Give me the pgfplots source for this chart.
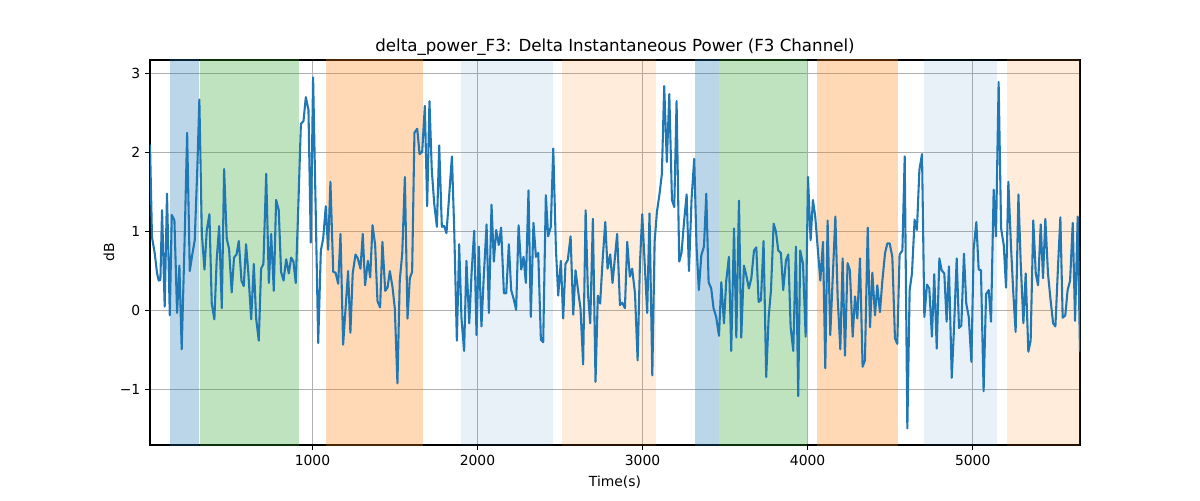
\documentclass[border=0pt]{standalone}
\usepackage{fontspec}
\setmainfont{DejaVu Sans}
\usepackage{pgfplots}
\pgfplotsset{compat=1.18}
\definecolor{tabblue}{RGB}{31,119,180}
\definecolor{tabgreen}{RGB}{44,160,44}
\definecolor{taborange}{RGB}{255,127,14}
\definecolor{gridgray}{RGB}{176,176,176}
\begin{document}
\begin{tikzpicture}
\path[use as bounding box] (-108pt,-39.6pt) rectangle (756pt,320.4pt);
\begin{axis}[
  at={(0,0)}, anchor=south west,
  scale only axis, width=669.6pt, height=277.2pt,
  xmin=16, xmax=5650, ymin=-1.70, ymax=3.17,
  xtick={1000,2000,3000,4000,5000},
  xticklabels={1000,2000,3000,4000,5000},
  ytick={-1,0,1,2,3},
  yticklabels={−1,0,1,2,3},
  tick pos=left, tick align=outside,
  major tick length=3.5pt,
  every tick/.style={black, line width=0.8pt},
  axis line style={line width=0.8pt},
  grid=major,
  major grid style={gridgray, line width=0.8pt},
  ticklabel style={font=\fontsize{10}{12}\selectfont},
  label style={font=\fontsize{10}{12}\selectfont},
  xlabel={Time(s)}, ylabel={dB},
  title={delta\_power\_F3: Delta Instantaneous Power (F3 Channel)},
  title style={font=\fontsize{12}{14}\selectfont, yshift=-6pt},
  xlabel style={yshift=-1pt},
  ylabel style={yshift=-3pt},
]
% shaded spans
\addplot[draw=none, fill=tabblue, fill opacity=0.3] coordinates {(138,-5) (313,-5) (313,5) (138,5)} -- cycle;
\addplot[draw=none, fill=tabgreen, fill opacity=0.3] coordinates {(320,-5) (917,-5) (917,5) (320,5)} -- cycle;
\addplot[draw=none, fill=taborange, fill opacity=0.3] coordinates {(1083,-5) (1669,-5) (1669,5) (1083,5)} -- cycle;
\addplot[draw=none, fill=tabblue, fill opacity=0.1] coordinates {(1901,-5) (2456,-5) (2456,5) (1901,5)} -- cycle;
\addplot[draw=none, fill=taborange, fill opacity=0.15] coordinates {(2513,-5) (3084,-5) (3084,5) (2513,5)} -- cycle;
\addplot[draw=none, fill=tabblue, fill opacity=0.3] coordinates {(3319,-5) (3460,-5) (3460,5) (3319,5)} -- cycle;
\addplot[draw=none, fill=tabgreen, fill opacity=0.3] coordinates {(3460,-5) (3998,-5) (3998,5) (3460,5)} -- cycle;
\addplot[draw=none, fill=taborange, fill opacity=0.3] coordinates {(4058,-5) (4548,-5) (4548,5) (4058,5)} -- cycle;
\addplot[draw=none, fill=tabblue, fill opacity=0.1] coordinates {(4707,-5) (5150,-5) (5150,5) (4707,5)} -- cycle;
\addplot[draw=none, fill=taborange, fill opacity=0.15] coordinates {(5210,-5) (5700,-5) (5700,5) (5210,5)} -- cycle;
% signal
\addplot[tabblue, line width=1.5pt, line join=round, mark=none] table {
x y
16 2.10
28 0.93
45 0.72
59 0.47
69 0.38
79 0.39
89 1.27
105 0.05
119 1.48
136 -0.06
148 1.21
164 1.14
180 -0.03
194 0.57
208 -0.49
225 0.83
241 2.25
257 0.50
273 0.72
287 0.89
303 1.82
315 2.67
330 0.97
346 0.52
360 1.02
376 1.22
390 0.09
406 -0.11
420 0.64
435 1.07
451 0.03
465 1.79
481 0.91
495 0.78
511 0.23
525 0.67
540 0.71
554 0.88
570 0.38
584 0.31
598 0.84
612 0.47
629 -0.11
645 0.59
659 -0.10
675 -0.38
689 0.53
703 0.59
720 1.73
736 0.35
750 0.97
766 0.25
780 1.40
796 1.27
810 0.49
825 0.38
841 0.65
857 0.47
871 0.67
885 0.62
899 0.35
915 1.35
930 2.36
946 2.40
960 2.70
976 2.54
990 0.86
1004 2.95
1020 1.25
1035 -0.41
1051 0.76
1065 0.91
1081 1.32
1095 0.77
1109 1.63
1126 0.49
1140 0.48
1156 0.34
1170 0.97
1186 -0.43
1216 0.50
1230 -0.28
1244 0.47
1261 0.71
1275 0.66
1291 0.53
1305 0.97
1319 0.32
1336 0.63
1350 0.42
1364 1.08
1380 0.83
1394 0.12
1410 0.04
1424 0.87
1441 0.25
1455 0.29
1469 0.50
1485 0.30
1499 0.03
1515 -0.92
1529 0.38
1544 0.72
1560 1.69
1576 -0.10
1590 0.41
1604 0.49
1618 2.25
1635 2.30
1649 1.98
1665 2.01
1681 2.59
1695 1.32
1709 2.65
1723 1.78
1738 1.35
1754 1.06
1768 2.09
1784 1.06
1798 1.07
1812 0.98
1828 1.44
1845 1.95
1859 1.02
1875 -0.38
1889 0.84
1903 -0.10
1919 -0.51
1933 0.63
1950 -0.16
1964 0.47
1980 1.01
1994 -0.31
2008 0.81
2024 -0.20
2038 0.43
2055 1.09
2069 -0.03
2085 1.34
2099 0.62
2113 1.02
2129 0.83
2143 1.05
2160 0.22
2174 0.22
2190 0.84
2204 0.26
2220 0.14
2234 0.01
2249 1.08
2265 0.52
2279 0.68
2293 0.35
2309 1.52
2323 -0.08
2339 1.11
2354 0.68
2368 0.73
2384 -0.37
2398 -0.40
2414 1.46
2428 0.94
2444 1.06
2459 2.05
2475 0.78
2489 0.19
2505 0.63
2519 -0.10
2533 0.59
2547 0.64
2564 0.94
2580 -0.05
2594 0.51
2610 0.24
2624 0.03
2640 -0.68
2655 1.27
2669 0.22
2683 -0.16
2699 1.16
2715 -0.90
2729 0.19
2743 0.09
2758 0.64
2774 1.12
2788 0.53
2804 0.71
2818 0.35
2846 0.97
2863 0.07
2877 0.10
2893 0.03
2907 0.87
2923 0.43
2937 0.53
2954 0.22
2970 -0.63
2984 0.59
2998 1.22
3014 0.55
3028 -0.03
3042 1.23
3059 -0.82
3073 0.87
3087 1.25
3103 1.48
3117 1.73
3131 2.84
3147 1.88
3162 2.74
3178 1.40
3192 1.31
3206 2.65
3222 0.62
3236 0.73
3252 1.14
3267 1.47
3281 0.50
3297 1.42
3313 1.92
3327 0.81
3341 0.26
3356 0.70
3372 0.81
3386 1.48
3400 0.36
3416 0.28
3430 0.03
3446 -0.08
3463 -0.32
3477 0.36
3493 -0.16
3507 0.38
3523 0.68
3537 -0.51
3554 1.04
3568 -0.34
3584 1.39
3598 -0.34
3614 0.57
3628 0.45
3644 0.28
3659 0.41
3675 0.76
3689 0.80
3703 0.11
3717 0.13
3733 0.88
3749 -0.84
3764 -0.08
3778 0.26
3794 1.10
3808 1.00
3822 0.76
3838 0.73
3852 0.26
3869 0.64
3883 0.71
3897 -0.21
3913 -0.51
3929 0.81
3943 -1.08
3955 0.76
3972 0.59
3988 -0.33
4002 1.69
4018 0.89
4032 1.40
4046 1.19
4063 0.74
4077 0.38
4093 0.87
4107 -0.73
4121 1.14
4137 -0.31
4168 1.19
4182 0.16
4198 -0.49
4212 0.66
4226 -0.57
4242 0.60
4256 0.51
4273 -0.33
4287 0.18
4301 -0.10
4317 0.66
4333 -0.71
4347 -0.63
4364 1.05
4378 -0.21
4392 0.48
4408 -0.06
4422 0.32
4438 -0.02
4452 0.36
4469 0.73
4483 0.85
4497 0.85
4513 0.68
4529 -0.35
4543 -0.42
4557 0.71
4574 0.76
4588 1.95
4604 -1.49
4618 0.26
4632 0.47
4648 1.15
4662 1.02
4677 1.78
4693 1.98
4707 -0.08
4723 0.33
4737 0.28
4753 -0.33
4767 0.46
4782 -0.48
4798 0.66
4812 0.51
4828 0.47
4842 -0.14
4856 0.56
4873 -0.85
4887 -0.21
4903 0.66
4917 -0.22
4931 -0.19
4947 0.72
4961 0.09
4976 -0.08
4992 -0.65
5006 0.78
5022 1.12
5036 0.52
5050 0.51
5066 -1.02
5081 0.21
5097 0.26
5111 -0.14
5127 1.53
5141 0.94
5157 2.89
5172 1.04
5188 0.83
5202 0.29
5216 1.63
5232 0.81
5246 0.22
5260 -0.27
5277 1.47
5291 0.59
5307 -0.16
5321 0.47
5337 -0.52
5351 -0.38
5367 1.14
5382 0.47
5396 0.32
5412 1.09
5426 0.41
5440 1.16
5456 0.47
5470 0.17
5487 -0.16
5501 -0.20
5517 0.57
5531 1.18
5545 -0.09
5561 -0.06
5575 0.26
5590 0.38
5606 1.11
5620 -0.13
5636 1.19
5650 -0.52
};
\end{axis}
\end{tikzpicture}
\end{document}
